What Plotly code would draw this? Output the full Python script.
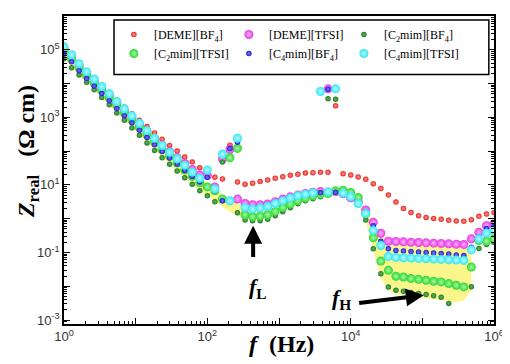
import plotly.graph_objects as go

# Frequency grid (Hz)
freq = [1.0, 1.274, 1.624, 2.069, 2.637, 3.360, 4.281, 5.456, 6.952, 8.859,
        11.29, 14.38, 18.33, 23.36, 29.76, 37.93, 48.33, 61.58, 78.48, 100.0,
        127.4, 162.4, 206.9, 263.7, 336.0, 428.1, 545.6, 695.2, 885.9, 1129,
        1438, 1833, 2336, 2976, 3793, 4833, 6158, 7848, 10000, 12740,
        16240, 20690, 26370, 33600, 42810, 54560, 69520, 88590, 112900, 143800,
        183300, 233600, 297600, 379300, 483300, 615800, 784800, 1000000]

# Z_real (Ohm cm) for each ionic liquid
deme_bf4 = [1.31e5, 7.62e4, 4.15e4, 2.41e4, 1.45e4, 8.73e3, 5.44e3, 3.27e3, 2.04e3, 1.27e3,
            816, 532, 345, 225, 147, 100, 66.6, 47.5, 32.3, 24.1,
            16.8, 15.0, 150, 12.2, 10.5, 11.2, 12.5, 14.0, 15.7, 17.5,
            19.3, 20.6, 22.5, 23.0, 23.6, 23.6, 2.21e3, 21.5, 19.7, 17.2,
            14.7, 10.9, 7.78, 4.98, 3.10, 2.01, 1.53, 1.23, 1.09, 1.02,
            0.954, 0.891, 0.856, 0.833, 0.935, 1.17, 1.37, 1.53]
deme_tfsi = [1.07e5, 6.22e4, 3.38e4, 1.97e4, 1.19e4, 7.13e3, 4.35e3, 2.58e3, 1.57e3, 967,
             602, 375, 233, 150, 96.6, 64.4, 42.9, 28.6, 19.7, 19.0,
             8.73, 58.2, 112, 3.80, 2.82, 2.58, 2.58, 2.71, 3.16, 3.80,
             4.44, 4.98, 5.55, 6.10, 6.35, 6.98e3, 6.22, 5.44, 4.15, 3.16,
             1.80, 0.778, 0.370, 0.215, 0.211, 0.206, 0.201, 0.197, 0.193, 0.188,
             0.184, 0.180, 0.175, 0.172, 0.253, 0.395, 0.622, 0.698]
c2mim_bf4 = [5.43e4, 2.96e4, 1.80e4, 1.09e4, 6.53e3, 3.87e3, 2.36e3, 1.34e3, 816, 484,
             296, 175, 105, 63.5, 40.6, 25.8, 16.4, 10.5, 6.66, 4.75,
             3.16, 47.5, 63.5, 1.50, 0.916, 0.873, 0.873, 0.967, 1.23, 1.61,
             2.11, 2.76, 3.38, 3.87, 4.44, 3.55e3, 3.45e3, 5.44, 4.15, 2.76,
             0.916, 0.128, 0.0236, 0.00953, 0.00763, 0.00713, 0.00653, 0.00610, 0.00570, 0.00526,
             0.00474, 0.00310, None, None, 0.00966, 0.131, 0.172, 0.197]
c2mim_tfsi = [9.35e4, 5.43e4, 2.96e4, 1.72e4, 1.03e4, 6.22e3, 3.80e3, 2.25e3, 1.37e3, 844,
              508, 310, 184, 112, 69.8, 44.4, 27.6, 17.8, 11.5, 8.73,
              6.66, 3.80, 63.5, 120, 1.31, 1.14, 1.20, 1.31, 1.64, 2.15,
              2.71, 3.38, 4.06, 4.75, 5.33, 5.55, 6.66, 6.98, 5.94, 4.23,
              1.40, 0.271, 0.0555, 0.0296, 0.0197, 0.0188, 0.0168, 0.0161, 0.0150, 0.0140,
              0.0134, 0.0120, 0.0107, 0.00953, 0.0370, 0.225, 0.215, 0.253]
c4mim_bf4 = [7.62e4, 4.44e4, 2.41e4, 1.40e4, 8.44e3, 5.08e3, 3.10e3, 1.84e3, 1.12e3, 689,
             415, 253, 155, 96.6, 62.2, 41.5, 26.7, 17.8, 12.2, 16.8,
             6.66, 3.38, 120, 184, 1.97, 1.78, 1.90, 2.11, 2.63, 3.16,
             3.80, 4.44, 4.98, 5.44, 5.82, 6.80e3, 6.02, 5.44, 4.15, 2.76,
             1.61, 0.622, 0.215, 0.128, 0.115, 0.111, 0.107, 0.103, 0.100, 0.0967,
             0.0935, 0.0904, 0.0844, 0.0816, 0.143, 0.282, 0.508, 0.582]
c4mim_tfsi = [1.22e5, 7.13e4, 3.87e4, 2.25e4, 1.36e4, 8.16e3, 4.98e3, 2.96e3, 1.80e3, 1.11e3,
              667, 406, 241, 147, 91.6, 59.4, 37.9, 24.1, 15.7, 27.6,
              7.62, 81.6, 3.38, 241, 2.15, 1.93, 2.06, 2.30, 2.82, 3.38,
              4.06, 4.75, 5.33, 5.82, 5.82e3, 6.22, 6.98e3, 5.70, 4.44, 2.82,
              1.43, 0.444, 0.161, 0.0762, 0.0713, 0.0698, 0.0679, 0.0667, 0.0653, 0.0636,
              0.0622, 0.0610, 0.0594, 0.0582, 0.120, 0.253, 0.370, 0.444]

names = ["[DEME][BF<sub>4</sub>]", "[DEME][TFSI]", "[C<sub>2</sub>mim][BF<sub>4</sub>]",
         "[C<sub>2</sub>mim][TFSI]", "[C<sub>4</sub>mim][BF<sub>4</sub>]", "[C<sub>4</sub>mim][TFSI]"]
series = [deme_bf4, deme_tfsi, c2mim_bf4, c2mim_tfsi, c4mim_bf4, c4mim_tfsi]
colors = ["#e8221e", "#e63ae6", "#237a23", "#2ed82e", "#1c1ccc", "#33e6f2"]
centers = ["#ff9a90", "#fbb0fb", "#5fb85f", "#a8f7a8", "#7a7aff", "#b8fbff"]
sizes = [5.5, 9, 5.5, 9, 5.5, 9]

# Yellow highlight bands (f_L and f_H regions)
band_l_freq = freq[0:25]
band_l_top = [1.22e5, 7.13e4, 3.87e4, 2.25e4, 1.36e4, 8.16e3, 4.98e3, 2.96e3, 1.80e3, 1.11e3,
              667, 406, 241, 147, 91.6, 59.4, 37.9, 24.1, 15.7, 11.0, 7.6, 5.2, 3.6, 2.8, 2.3]
band_l_bot = [5.43e4, 2.96e4, 1.80e4, 1.09e4, 6.53e3, 3.87e3, 2.36e3, 1.34e3, 816, 484,
              296, 175, 105, 63.5, 40.6, 25.8, 16.4, 10.5, 6.66, 4.75, 3.16, 2.2, 1.6, 1.2, 0.916]
band_h_freq = freq[39:55]
band_h_top = [3.38, 1.84, 0.762, 0.362, 0.218, 0.211, 0.206, 0.201, 0.197, 0.193, 0.188,
              0.184, 0.180, 0.175, 0.172, 0.140]
band_h_bot = [2.41, 0.816, 0.115, 0.0172, 0.00763, 0.00582, 0.00543, 0.00507, 0.00474, 0.00444,
              0.00414, 0.00387, 0.00350, 0.00338, 0.00387, 0.00763]

for s in series:
    assert len(s) == len(freq), len(s)

yellow = "rgb(250,246,140)"
fig = go.Figure()
for bf, bt, bb in [(band_l_freq, band_l_top, band_l_bot), (band_h_freq, band_h_top, band_h_bot)]:
    fig.add_trace(go.Scatter(x=bf, y=bt, mode="lines", line=dict(width=0, color=yellow),
                             showlegend=False, hoverinfo="skip"))
    fig.add_trace(go.Scatter(x=bf, y=bb, mode="lines", line=dict(width=0, color=yellow),
                             fill="tonexty", fillcolor=yellow, showlegend=False, hoverinfo="skip"))

for name, s, c, cc, sz in zip(names, series, colors, centers, sizes):
    fig.add_trace(go.Scatter(
        x=freq, y=s, mode="markers", name=name,
        marker=dict(size=sz, color=c, line=dict(width=0),
                    gradient=dict(type="radial", color=cc)),
    ))

serif = "Liberation Serif"
sans = "Liberation Sans"

xt_vals = [1, 10, 100, 1e3, 1e4, 1e5, 1e6]
xt_text = ["10<sup>0</sup>", "", "10<sup>2</sup>", "", "10<sup>4</sup>", "", "10<sup>6</sup>"]
yt_vals = [1e-3, 1e-2, 1e-1, 1, 10, 100, 1e3, 1e4, 1e5, 1e6]
yt_text = ["10<sup>-3</sup>", "", "10<sup>-1</sup>", "", "10<sup>1</sup>", "", "10<sup>3</sup>", "",
           "10<sup>5</sup>", ""]

# The page body adds an 8px offset, so the figure is sized to fit the window.
fig.update_layout(
    width=502, height=356,
    margin=dict(l=56, r=16, t=6, b=40),
    paper_bgcolor="white", plot_bgcolor="white",
    showlegend=True,
    legend=dict(
        orientation="h", x=0.116, y=0.987, xanchor="left", yanchor="top",
        traceorder="normal",
        bgcolor="rgba(0,0,0,0)", borderwidth=0,
        font=dict(family=serif, size=12, color="black"),
        entrywidth=70, entrywidthmode="pixels", itemsizing="trace", tracegroupgap=0,
    ),
    xaxis=dict(
        type="log", range=[0, 6], showgrid=False, zeroline=False,
        showline=True, linecolor="black", linewidth=1.5, mirror=True,
        ticks="inside", ticklen=6, tickwidth=1, tickcolor="black",
        tickmode="array", tickvals=xt_vals, ticktext=xt_text, ticklabeloverflow="allow",
        tickfont=dict(family=sans, size=13, color="#333"),
        minor=dict(ticks="inside", ticklen=3, tickwidth=1, tickcolor="black", dtick="D1"),
    ),
    yaxis=dict(
        type="log", range=[-3.118, 6.0], showgrid=False, zeroline=False,
        showline=True, linecolor="black", linewidth=1.5, mirror="ticks",
        ticks="inside", ticklen=6, tickwidth=1, tickcolor="black",
        tickmode="array", tickvals=yt_vals, ticktext=yt_text,
        tickfont=dict(family=sans, size=13, color="#333"),
        minor=dict(ticks="inside", ticklen=3, tickwidth=1, tickcolor="black", dtick="D1"),
    ),
)

# legend frame
fig.add_shape(type="rect", xref="paper", yref="paper", x0=0.1163, x1=0.988, y0=0.8097, y1=0.987,
              line=dict(color="black", width=1.5), fillcolor="rgba(0,0,0,0)", layer="above")

title_font = dict(family=serif, size=24, color="black")
ann_font = dict(family=serif, size=22, color="black")
fig.add_annotation(xref="paper", yref="paper", x=-0.084, y=0.561, textangle=-90,
                   text="<b><i>Z</i><sub>real</sub>   (Ω cm)</b>", showarrow=False,
                   xanchor="center", yanchor="middle", font=title_font)
fig.add_annotation(xref="paper", yref="paper", x=0.505, y=-0.0645,
                   text="<b><i>f</i>  (Hz)</b>", showarrow=False,
                   xanchor="center", yanchor="middle", font=title_font)
fig.add_annotation(xref="x", yref="y", x=2.713, y=-2.06,
                   text="<b><i>f</i><sub>L</sub></b>", showarrow=False,
                   xanchor="center", yanchor="middle", font=ann_font)
fig.add_annotation(xref="x", yref="y", x=3.874, y=-2.38,
                   text="<b><i>f</i><sub>H</sub></b>", showarrow=False,
                   xanchor="center", yanchor="middle", font=ann_font)
# arrows
fig.add_annotation(xref="x", yref="y", axref="x", ayref="y", x=2.639, y=-0.206,
                   ax=2.639, ay=-1.176, text="", showarrow=True, arrowhead=2,
                   arrowwidth=4, arrowsize=0.9, arrowcolor="black", standoff=0)
fig.add_annotation(xref="x", yref="y", axref="x", ayref="y", x=5.021, y=-2.265,
                   ax=4.098, ay=-2.5, text="", showarrow=True, arrowhead=2,
                   arrowwidth=4, arrowsize=0.9, arrowcolor="black", standoff=0)

fig.write_html("out.html")
